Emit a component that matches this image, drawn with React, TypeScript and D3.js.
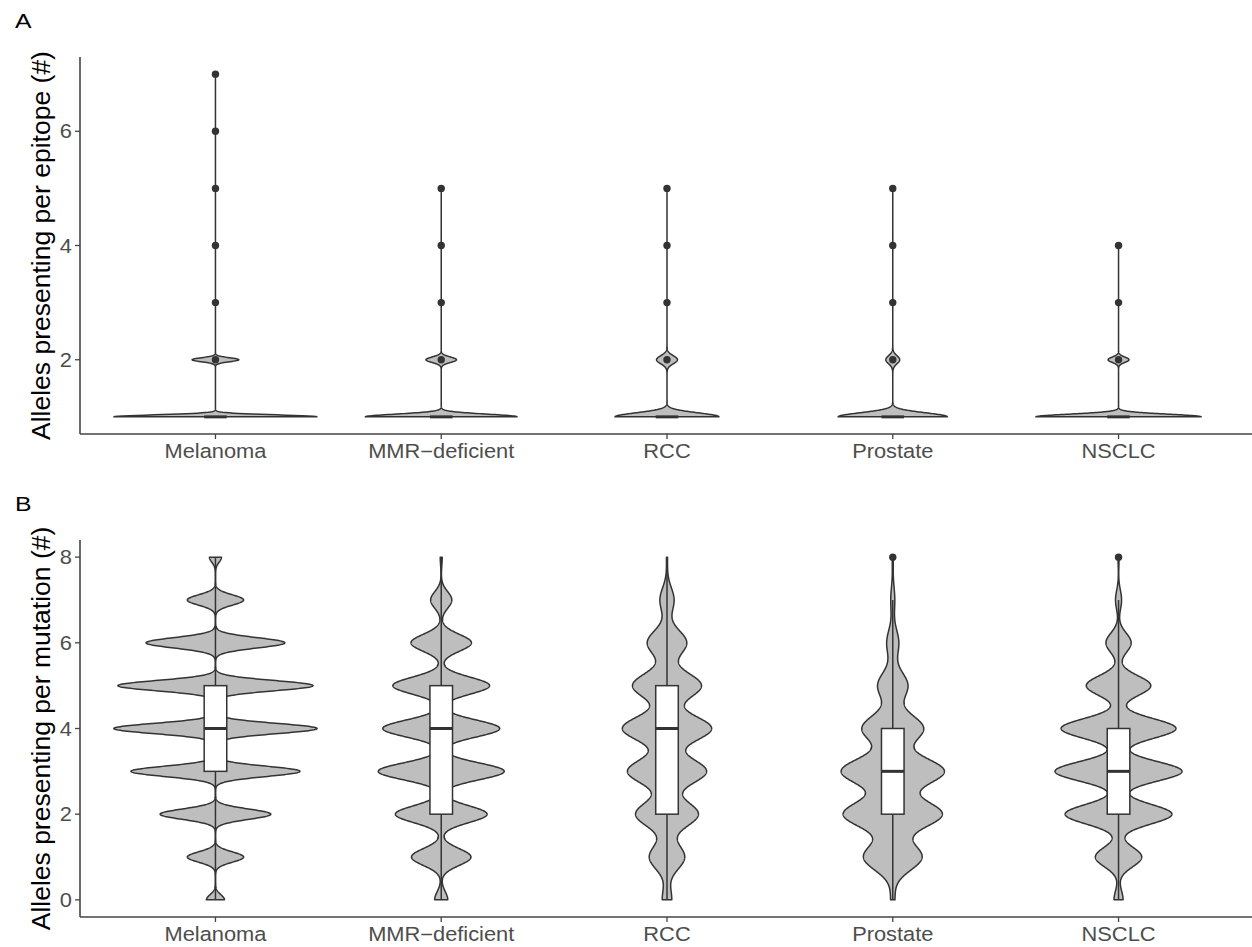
import React from "react";
import * as d3 from "d3";

// ---------- DATA ----------
const categories = ["Melanoma", "MMR\u2212deficient", "RCC", "Prostate", "NSCLC"];

// Panel A: relative frequency of epitopes presented by 1..7 alleles
const epitopeValues = [1, 2, 3, 4, 5, 6, 7];
const epitopeMelanoma = [102, 23.5, 0.02, 0.02, 0.02, 0.02, 0.02];
const epitopeMMR = [77, 15.5, 0.02, 0.02, 0.02, 0, 0];
const epitopeRCC = [52, 10.5, 0.02, 0.02, 0.02, 0, 0];
const epitopeProstate = [55, 7, 0.02, 0.02, 0.02, 0, 0];
const epitopeNSCLC = [83, 10.5, 0.02, 0.02, 0, 0, 0];
const epitopeBandwidth = [0.035, 0.048, 0.07, 0.071, 0.047];
const epitopeQ1 = [1, 1, 1, 1, 1];
const epitopeMedian = [1, 1, 1, 1, 1];
const epitopeQ3 = [1, 1, 1, 1, 1];

// Panel B: relative frequency of mutations presented by 0..8 alleles
const mutationValues = [0, 1, 2, 3, 4, 5, 6, 7, 8];
const mutationMelanoma = [9, 28, 55, 84, 101, 97, 69, 28, 6];
const mutationMMR = [6.5, 29.5, 45.5, 62.5, 58, 48, 30, 10.5, 1];
const mutationRCC = [4.7, 17.5, 31, 39, 44, 34, 19.5, 7, 0.5];
const mutationProstate = [2, 29, 49, 51, 30.5, 15, 6, 2, 0.5];
const mutationNSCLC = [4.5, 23, 53, 63, 57, 32, 12.5, 3, 0.5];
const mutationBandwidth = [0.12, 0.196, 0.289, 0.31, 0.23];
const mutationQ1 = [3, 2, 2, 2, 2];
const mutationMedian = [4, 4, 4, 3, 3];
const mutationQ3 = [5, 5, 5, 4, 4];

const epitopeTicks = [2, 4, 6];
const mutationTicks = [0, 2, 4, 6, 8];

// ---------- STYLE ----------
const W = 1252;
const H = 947;
const FONT = "'Liberation Sans', Arial, Helvetica, sans-serif";
const VIOLIN_FILL = "#bebebe";
const INK = "#333333";
const TEXT_STRETCH = 1.12;

function kde(vals: number[], w: number[], sigma: number) {
  const present = vals.filter((_, i) => w[i] > 0);
  const lo = d3.min(present) as number;
  const hi = d3.max(present) as number;
  const total = d3.sum(w);
  const n = 1200;
  return d3.range(n).map((i) => {
    const y = lo + ((hi - lo) * i) / (n - 1);
    let d = 0;
    vals.forEach((v, j) => {
      if (w[j] > 0) {
        const z = (y - v) / sigma;
        d += (w[j] / total) * Math.exp(-0.5 * z * z) / (sigma * Math.sqrt(2 * Math.PI));
      }
    });
    return [y, d] as [number, number];
  });
}

function boxStats(vals: number[], w: number[], q1: number, med: number, q3: number) {
  const present = vals.filter((_, i) => w[i] > 0);
  const iqr = q3 - q1;
  const inside = present.filter((v) => v >= q1 - 1.5 * iqr && v <= q3 + 1.5 * iqr);
  const lo = d3.min(inside) as number;
  const hi = d3.max(inside) as number;
  const outliers = present.filter((v) => v < lo || v > hi);
  return { q1, med, q3, lo, hi, outliers };
}

type PanelProps = {
  letter: string;
  title: string;
  top: number;
  bottom: number;
  domain: [number, number];
  ticks: number[];
  values: number[];
  series: number[][];
  bandwidth: number[];
  q1: number[];
  med: number[];
  q3: number[];
};

const LEFT = 80;
const RIGHT = 1254;

function Panel(p: PanelProps) {
  const x = d3.scalePoint<string>().domain(categories).range([LEFT, RIGHT]).padding(0.6);
  const step = x.step();
  const y = d3.scaleLinear().domain(p.domain).range([p.bottom, p.top]);
  const curves = p.series.map((s, i) => kde(p.values, s, p.bandwidth[i]));
  const gmax = d3.max(curves, (c) => d3.max(c, (d) => d[1])) as number;
  const halfMax = 0.45 * step;
  const boxHalf = 0.05 * step;

  return (
    <g>
      <text
        transform={`translate(15,${p.top - 29}) scale(1.18,1)`}
        fontFamily={FONT}
        fontSize={21}
        fill="#000"
      >
        {p.letter}
      </text>
      {categories.map((c, i) => {
        const xc = x(c) as number;
        const area = d3
          .area<[number, number]>()
          .y((d) => y(d[0]))
          .x0((d) => xc - (d[1] / gmax) * halfMax)
          .x1((d) => xc + (d[1] / gmax) * halfMax);
        const st = boxStats(p.values, p.series[i], p.q1[i], p.med[i], p.q3[i]);
        return (
          <g key={c}>
            <path d={area(curves[i]) as string} fill={VIOLIN_FILL} stroke={INK} strokeWidth={1.5} strokeLinejoin="round" />
            <line x1={xc} x2={xc} y1={y(st.q3)} y2={y(st.hi)} stroke={INK} strokeWidth={1.5} />
            <line x1={xc} x2={xc} y1={y(st.q1)} y2={y(st.lo)} stroke={INK} strokeWidth={1.5} />
            <rect
              x={xc - boxHalf}
              width={boxHalf * 2}
              y={y(st.q3)}
              height={Math.max(0, y(st.q1) - y(st.q3))}
              fill="#fff"
              stroke={INK}
              strokeWidth={1.5}
            />
            <line x1={xc - boxHalf} x2={xc + boxHalf} y1={y(st.med)} y2={y(st.med)} stroke={INK} strokeWidth={3} />
            {st.outliers.map((v) => (
              <circle key={v} cx={xc} cy={y(v)} r={3.7} fill={INK} />
            ))}
          </g>
        );
      })}
      {/* axes */}
      <line x1={LEFT} x2={LEFT} y1={p.top} y2={p.bottom} stroke="#444" strokeWidth={1.6} />
      <line x1={LEFT} x2={RIGHT} y1={p.bottom} y2={p.bottom} stroke="#444" strokeWidth={1.6} />
      {p.ticks.map((t) => (
        <g key={t}>
          <line x1={LEFT - 5} x2={LEFT} y1={y(t)} y2={y(t)} stroke="#444" strokeWidth={1.3} />
          <text
            transform={`translate(${LEFT - 8},${y(t)}) scale(${TEXT_STRETCH},1)`}
            dy="0.36em"
            textAnchor="end"
            fontFamily={FONT}
            fontSize={19.5}
            fill="#4d4d4d"
          >
            {t}
          </text>
        </g>
      ))}
      {categories.map((c) => (
        <g key={c}>
          <line x1={x(c)} x2={x(c)} y1={p.bottom} y2={p.bottom + 5} stroke="#444" strokeWidth={1.3} />
          <text
            transform={`translate(${x(c)},${p.bottom + 24}) scale(${TEXT_STRETCH},1)`}
            textAnchor="middle"
            fontFamily={FONT}
            fontSize={19.5}
            fill="#4d4d4d"
          >
            {c}
          </text>
        </g>
      ))}
      <text
        transform={`translate(50,${(p.top + p.bottom) / 2}) rotate(-90)`}
        textAnchor="middle"
        fontFamily={FONT}
        fontSize={26.5}
        fill="#000"
      >
        {p.title}
      </text>
    </g>
  );
}

export default function App() {
  return (
    <svg width={W} height={H} style={{ position: "absolute", left: 0, top: 0, background: "#fff" }}>
      <rect width={W} height={H} fill="#fff" />
      <Panel
        letter="A"
        title="Alleles presenting per epitope (#)"
        top={57}
        bottom={434}
        domain={[0.7, 7.3]}
        ticks={epitopeTicks}
        values={epitopeValues}
        series={[epitopeMelanoma, epitopeMMR, epitopeRCC, epitopeProstate, epitopeNSCLC]}
        bandwidth={epitopeBandwidth}
        q1={epitopeQ1}
        med={epitopeMedian}
        q3={epitopeQ3}
      />
      <Panel
        letter="B"
        title="Alleles presenting per mutation (#)"
        top={540}
        bottom={917}
        domain={[-0.4, 8.4]}
        ticks={mutationTicks}
        values={mutationValues}
        series={[mutationMelanoma, mutationMMR, mutationRCC, mutationProstate, mutationNSCLC]}
        bandwidth={mutationBandwidth}
        q1={mutationQ1}
        med={mutationMedian}
        q3={mutationQ3}
      />
    </svg>
  );
}
